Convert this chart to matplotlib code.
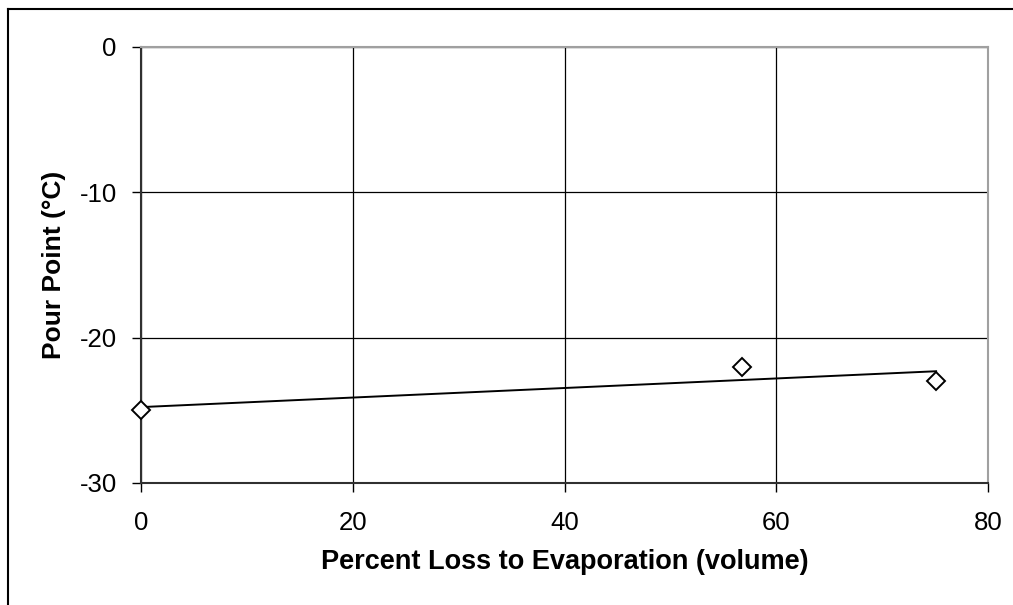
import matplotlib
matplotlib.use("Agg")
import matplotlib.pyplot as plt
from matplotlib.lines import Line2D
import numpy as np

plt.rcParams['font.family'] = ['Liberation Sans', 'DejaVu Sans']
plt.rcParams['axes.unicode_minus'] = False

# Data
loss_pct = [0.0, 56.8, 75.1]
pour_point = [-25.0, -22.0, -23.0]
x_ticks = [0, 20, 40, 60, 80]
y_ticks = [-30, -20, -10, 0]
x_label = "Percent Loss to Evaporation (volume)"
y_label = "Pour Point (°C)"

W, H = 1013, 605
fig = plt.figure(figsize=(W / 100, H / 100), dpi=100)
ax = fig.add_axes([141 / W, 1 - 483 / H, (988 - 141) / W, (483 - 47) / H])

# Linear trendline through the data
coef = np.polyfit(loss_pct, pour_point, 1)
tx = np.array([min(loss_pct), max(loss_pct)])
ax.plot(tx, np.polyval(coef, tx), color='black', lw=1.4, zorder=3)

ax.plot(loss_pct, pour_point, linestyle='none', marker='D', markersize=9,
        markerfacecolor='white', markeredgecolor='black', markeredgewidth=1.4,
        zorder=4, clip_on=False)

ax.set_xlim(0, 80)
ax.set_ylim(-30, 0)
ax.set_xticks(x_ticks)
ax.set_yticks(y_ticks)
ax.grid(True, color='black', lw=0.9)
ax.set_axisbelow(True)

for s in ['top', 'right']:
    ax.spines[s].set_color('#a0a0a0')
    ax.spines[s].set_linewidth(1.5)
for s in ['left', 'bottom']:
    ax.spines[s].set_color('#303030')
    ax.spines[s].set_linewidth(1.5)

ax.tick_params(axis='both', direction='out', length=6.5, width=1.0, color='black',
               labelsize=18.5)
ax.tick_params(axis='y', pad=11)
ax.tick_params(axis='x', pad=14)

ax.set_xlabel(x_label, fontsize=19.5, fontweight='bold', labelpad=10)
ax.set_ylabel(y_label, fontsize=19, fontweight='bold', labelpad=10)

# Outer chart frame
fig.add_artist(Line2D([7.5 / W, 7.5 / W], [0, 1 - 8.5 / H], transform=fig.transFigure,
                      color='black', lw=1.5))
fig.add_artist(Line2D([7.5 / W, 1], [1 - 8.5 / H, 1 - 8.5 / H], transform=fig.transFigure,
                      color='black', lw=1.5))

fig.savefig("out.png", dpi=100)
